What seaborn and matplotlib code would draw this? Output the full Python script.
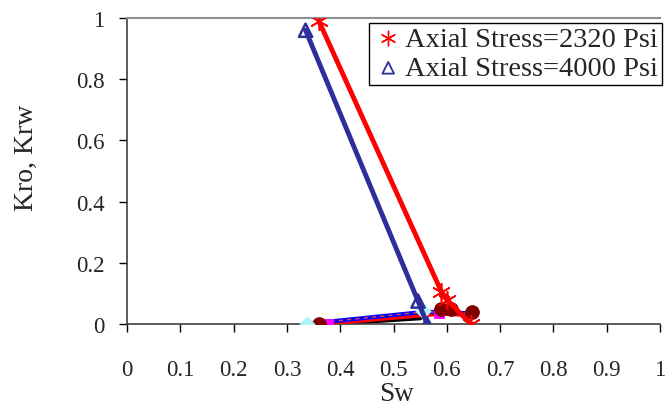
import matplotlib
matplotlib.use("Agg")
import matplotlib.pyplot as plt
import seaborn as sns
import pandas as pd

sns.set_style("ticks")
plt.rcParams['font.family'] = ['Liberation Serif', 'DejaVu Serif']

# Kro curves
sw_kro_2320 = [0.36, 0.59, 0.60, 0.645]
kro_2320 = [0.99, 0.105, 0.08, 0.0]
sw_kro_4000 = [0.335, 0.546, 0.563]
kro_4000 = [0.96, 0.075, 0.0]

# Krw curves
sw_krw_2320 = [0.36, 0.59, 0.645]
krw_2320 = [0.0, 0.035, 0.03]
sw_krw_4000 = [0.335, 0.56, 0.645]
krw_4000 = [0.0, 0.04, 0.035]
sw_krw_black = [0.37, 0.55]
krw_black = [0.0, 0.02]

# extra marker sets
sw_circ = [0.36, 0.59, 0.607, 0.647]
k_circ = [0.0, 0.05, 0.05, 0.038]
sw_sq = [0.377, 0.585]
k_sq = [0.0, 0.035]
sw_dia = [0.337, 0.556]
k_dia = [0.0, 0.042]

x_ticks = [0, 0.1, 0.2, 0.3, 0.4, 0.5, 0.6, 0.7, 0.8, 0.9, 1]
x_labels = ['0', '0.1', '0.2', '0.3', '0.4', '0.5', '0.6', '0.7', '0.8', '0.9', '1']
y_ticks = [0, 0.2, 0.4, 0.6, 0.8, 1]
y_labels = ['0', '0.2', '0.4', '0.6', '0.8', '1']

fig = plt.figure(figsize=(6.68, 4.10), dpi=100)
ax = fig.add_axes([127/668, 1-325/410, (660-127)/668, (325-19)/410])

# Krw lines
sns.lineplot(x=sw_krw_black, y=krw_black, ax=ax, color='black', lw=3.5, sort=False, zorder=2)
sns.lineplot(x=sw_krw_2320, y=krw_2320, ax=ax, color='red', lw=3.5, sort=False, zorder=3)
sns.lineplot(x=sw_krw_4000, y=krw_4000, ax=ax, color='blue', lw=3, sort=False, zorder=4)
ax.plot(sw_krw_4000, krw_4000, color='#ff4040', lw=1, ls=(0, (3, 3)), zorder=5)

sns.scatterplot(x=sw_sq, y=k_sq, ax=ax, marker='s', color='magenta', s=55, edgecolor='magenta', zorder=6)
sns.scatterplot(x=sw_circ, y=k_circ, ax=ax, marker='o', color='#800000', s=95, edgecolor='#800000', zorder=7)
sns.scatterplot(x=sw_dia, y=k_dia, ax=ax, marker='D', color='#b0f4f8', s=60, edgecolor='#b0f4f8', zorder=8)

# Kro lines
sns.lineplot(x=sw_kro_4000, y=kro_4000, ax=ax, color='#2e2e9a', lw=3.5, sort=False, zorder=9)
sns.lineplot(x=sw_kro_2320, y=kro_2320, ax=ax, color='red', lw=3.5, sort=False, zorder=9)
sns.scatterplot(x=sw_kro_4000, y=kro_4000, ax=ax, marker='^', s=90, facecolor='none',
                edgecolor='#2e2e9a', linewidth=1.8, zorder=10)
sns.scatterplot(x=sw_kro_2320, y=kro_2320, ax=ax, marker=(6, 2, 0), s=160, color='red',
                linewidth=1.2, zorder=10)

# legend proxies
h1 = ax.scatter([], [], marker=(6, 2, 0), s=110, color='red', linewidth=1.0)
h2 = ax.scatter([], [], marker='^', s=70, facecolor='none', edgecolor='#2e2e9a', linewidth=1.3)
leg = ax.legend([h1, h2], ['Axial Stress=2320 Psi', 'Axial Stress=4000 Psi'],
                loc='upper right', bbox_to_anchor=(1.003, 0.985), fontsize=20.5, frameon=True,
                fancybox=False, edgecolor='black', framealpha=1, handletextpad=0.05,
                borderpad=0.12, labelspacing=0.12, borderaxespad=0.0, handlelength=1.1)
leg.get_frame().set_linewidth(1.0)

ax.set_xlim(0, 1)
ax.set_ylim(0, 1)
ax.set_xticks(x_ticks)
ax.set_xticklabels(x_labels)
ax.set_yticks(y_ticks)
ax.set_yticklabels(y_labels)
ax.tick_params(axis='both', labelsize=16.5, direction='out', length=6, width=1, color='black')
ax.tick_params(axis='x', pad=19)
ax.tick_params(axis='y', pad=10)
ax.set_xlabel('Sw', fontsize=19.5, va='center')
ax.xaxis.set_label_coords(0.505, -0.228)
ax.set_ylabel('Kro, Krw', fontsize=20, va='center')
ax.yaxis.set_label_coords(-0.188, 0.545)

for s in ['left', 'bottom']:
    ax.spines[s].set_color('#404040')
    ax.spines[s].set_linewidth(1.2)
ax.spines['right'].set_visible(False)
ax.spines['top'].set_color('#909090')
ax.spines['top'].set_linewidth(1.5)

fig.savefig('out.png', dpi=100)
